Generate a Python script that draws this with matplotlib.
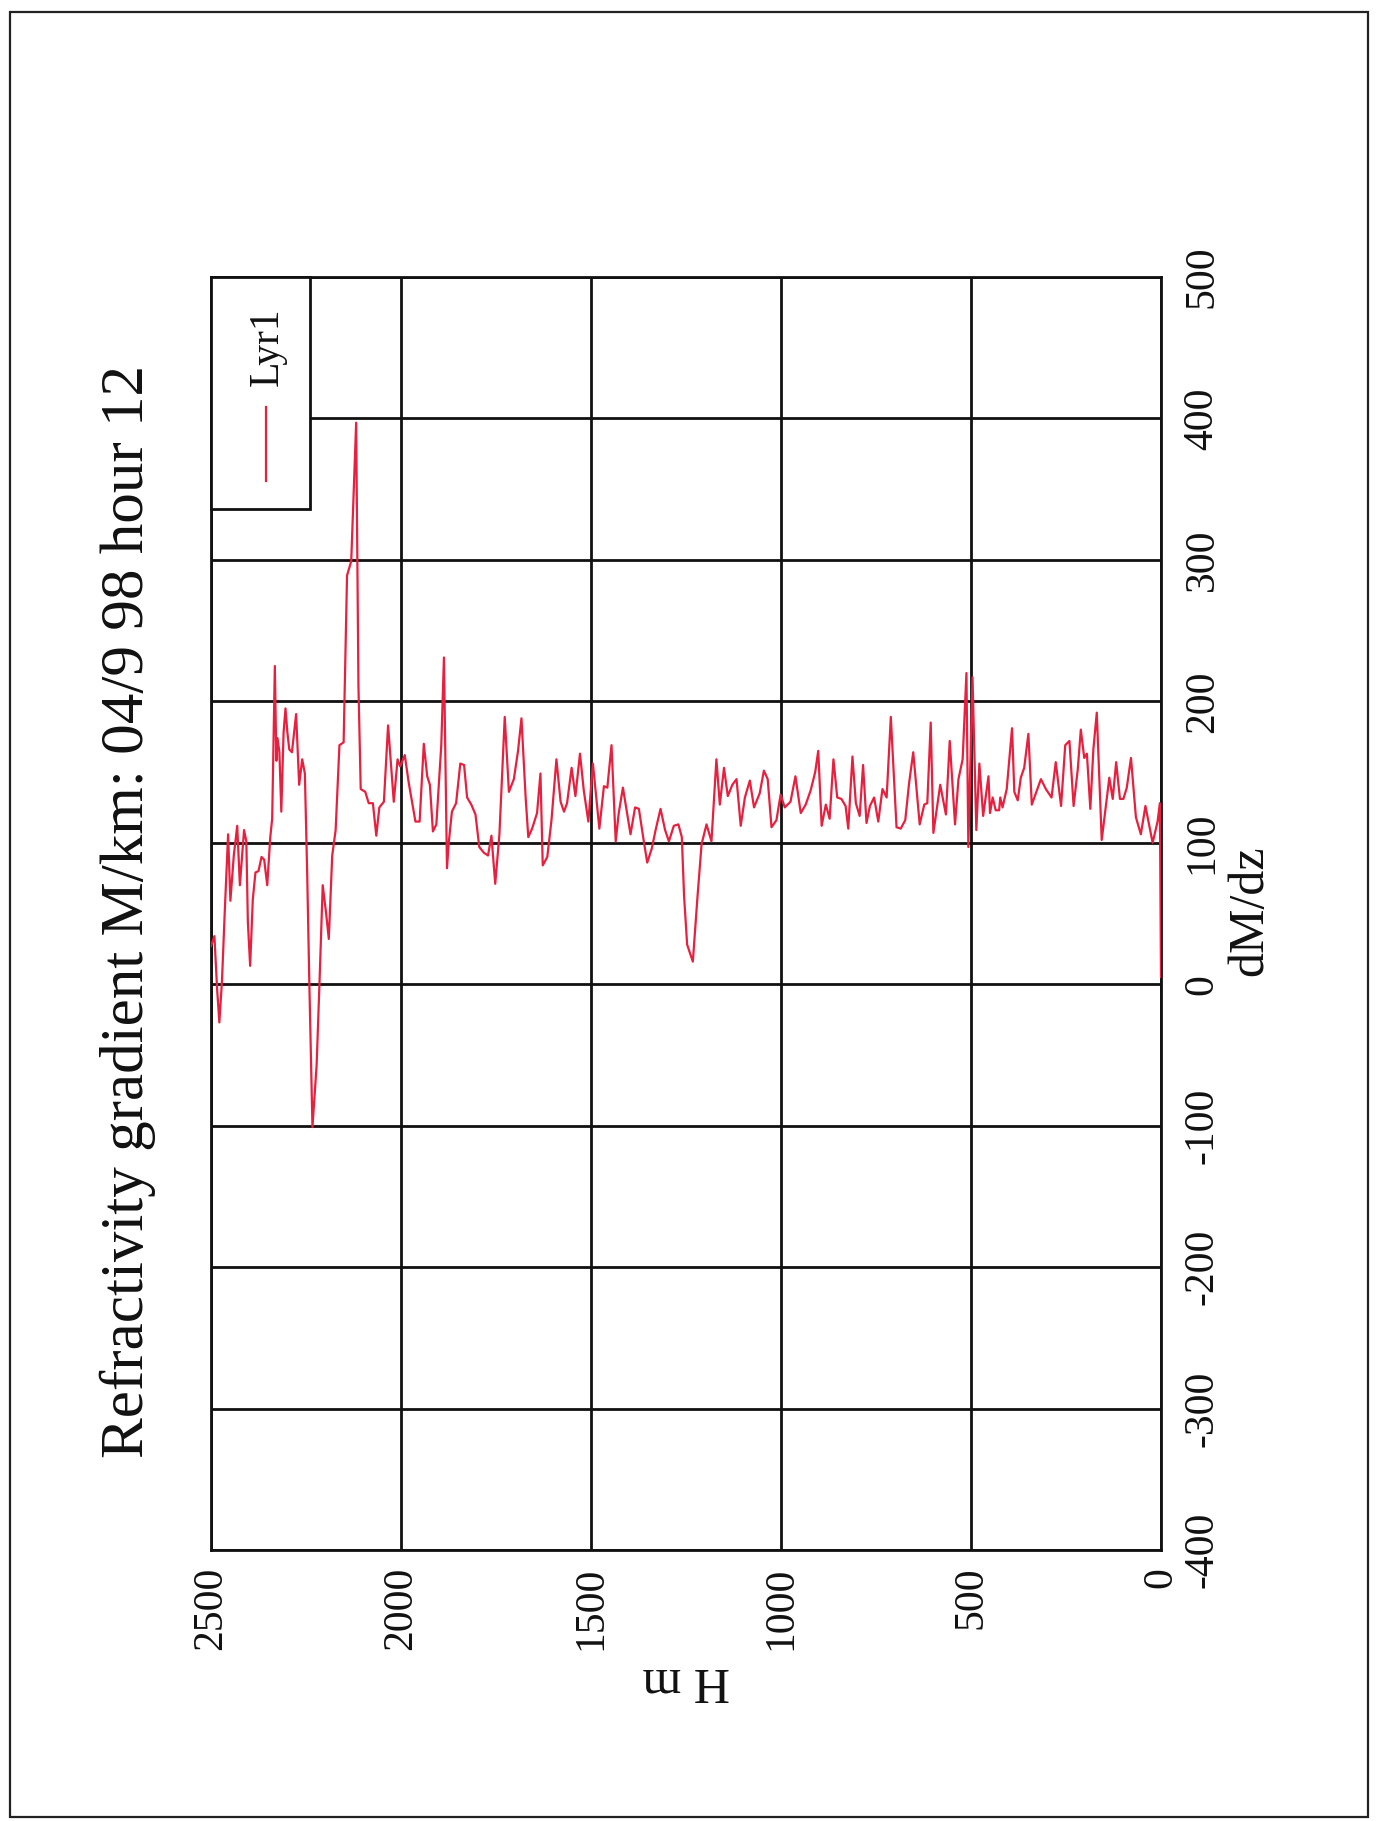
import matplotlib
matplotlib.use("Agg")
import matplotlib.pyplot as plt
from matplotlib.patches import Rectangle
from matplotlib.lines import Line2D

plt.rcParams['font.family'] = ['Liberation Serif', 'DejaVu Serif']
plt.rcParams['axes.unicode_minus'] = False

# Height above ground (m) and refractivity gradient dM/dz (M/km)
height_m = [
    2500, 2491, 2484, 2478, 2471, 2464, 2455, 2449, 2440, 2431,
    2424, 2418, 2413, 2407, 2403, 2397, 2390, 2383, 2375, 2367,
    2360, 2352, 2344, 2339, 2332, 2328, 2325, 2320, 2315, 2309,
    2304, 2299, 2294, 2287, 2280, 2276, 2268, 2260, 2253, 2247,
    2241, 2233, 2222, 2215, 2206, 2197, 2190, 2181, 2172, 2162,
    2151, 2142, 2131, 2118, 2112, 2106,
    2094, 2085, 2074, 2065, 2057, 2045, 2034, 2019, 2009, 2002,
    1990, 1980, 1962, 1951, 1940, 1931, 1924, 1916, 1907, 1894,
    1887, 1879, 1874, 1866, 1855, 1844, 1834, 1826, 1815,
    1804, 1794, 1782, 1771, 1762, 1752, 1741, 1727, 1716, 1703,
    1692, 1683, 1672,
    1665, 1655, 1642, 1633, 1627, 1615, 1604, 1591, 1580, 1571,
    1563, 1551, 1541, 1529, 1519, 1507, 1495, 1488, 1478, 1466,
    1457, 1446, 1435, 1427, 1416, 1405, 1396, 1384, 1374, 1361,
    1352, 1340, 1330, 1317, 1305, 1295, 1282, 1270, 1261, 1255,
    1247, 1232,
    1220, 1209, 1196, 1183, 1170, 1161, 1150, 1140, 1128, 1117,
    1106, 1095, 1082, 1071, 1056, 1045, 1035, 1025, 1012, 1001,
    990, 975, 962, 948, 935, 922, 910, 902, 893, 882,
    872, 862, 852, 841, 830, 823,
    812, 803, 793, 784, 775, 766, 755, 744, 733, 722,
    711, 696, 685, 673, 663, 652, 635, 623, 615, 606,
    599, 581, 566, 556, 542, 533, 522, 512, 507, 496,
    486, 478, 468, 454, 450, 443, 435, 426, 423, 417,
    406,
    392, 386, 377, 369, 360, 349, 340, 328, 316, 303,
    288, 277, 263, 252, 241, 230, 219, 211, 202, 195,
    186, 178, 169, 156, 145, 136, 127, 118, 108, 99,
    90, 79, 66, 53, 41, 22, 9, 3, 0,
]

dm_dz = [
    27, 34, -3, -27, 3, 50, 106, 59, 91, 112,
    70, 91, 109, 101, 44, 13, 60, 79, 80, 90,
    88, 70, 104, 117, 225, 158, 174, 164, 122, 178,
    195, 178, 166, 164, 181, 191, 141, 159, 149, 80,
    -2, -101, -57, -3, 70, 50, 32, 91, 109, 169,
    171, 289, 299, 397, 211, 138,
    136, 128, 128, 105, 125, 129, 183, 129, 159, 154,
    162, 143, 115, 115, 170, 147, 141, 108, 113, 169,
    231, 82, 101, 122, 128, 156, 155, 132, 127,
    120, 97, 93, 91, 105, 71, 106, 189, 136, 145,
    165, 188, 132,
    104, 110, 121, 149, 84, 90, 116, 159, 129, 122,
    128, 153, 133, 163, 137, 115, 156, 137, 110, 140,
    139, 169, 101, 121, 139, 121, 106, 125, 124, 101,
    86, 96, 109, 124, 109, 101, 112, 113, 104, 62,
    28, 16,
    61, 99, 113, 101, 159, 127, 153, 133, 141, 145,
    112, 132, 144, 125, 135, 151, 145, 111, 116, 134,
    125, 129, 147, 121, 127, 137, 150, 165, 112, 127,
    117, 159, 132, 131, 126, 110,
    161, 128, 119, 155, 114, 126, 132, 115, 138, 132,
    189, 111, 110, 116, 142, 164, 113, 127, 128, 185,
    107, 141, 120, 172, 113, 145, 159, 220, 97, 217,
    109, 156, 119, 147, 121, 132, 123, 123, 132, 125,
    138,
    181, 136, 130, 146, 153, 177, 127, 136, 145, 138,
    132, 157, 126, 169, 172, 126, 152, 180, 160, 163,
    124, 166, 192, 102, 126, 146, 131, 157, 131, 131,
    139, 160, 118, 106, 126, 100, 115, 128, 5,
]

height_ticks = [0, 500, 1000, 1500, 2000, 2500]
gradient_ticks = [-400, -300, -200, -100, 0, 100, 200, 300, 400, 500]
series_name = "Lyr1"
title_text = "Refractivity gradient M/km: 04/9 98 hour 12"

W, H = 1376, 1821
fig = plt.figure(figsize=(W / 100, H / 100), dpi=100)
fig.patch.set_facecolor("white")

# page frame
frame = Rectangle((10 / W, 1 - 1817 / H), (1368 - 10) / W, (1817 - 12) / H,
                  transform=fig.transFigure, fill=False, edgecolor="#222222",
                  linewidth=1.6)
fig.add_artist(frame)

# plot area: height runs right-to-left, gradient runs bottom-to-top
left, right, top, bottom = 211, 1161, 277, 1550
ax = fig.add_axes([left / W, 1 - bottom / H, (right - left) / W, (bottom - top) / H])
ax.plot(height_m, dm_dz, color="#e8203f", linewidth=1.6, zorder=3)
ax.set_xlim(2500, 0)
ax.set_ylim(-400, 500)
ax.set_xticks(height_ticks)
ax.set_yticks(gradient_ticks)
ax.set_yticklabels([str(v) for v in gradient_ticks])
ax.yaxis.tick_right()
ax.tick_params(axis="both", length=0, labelsize=30, colors="#111111")
ax.tick_params(axis="x", pad=12)
ax.tick_params(axis="y", pad=16)
for lab in ax.get_xticklabels():
    lab.set_rotation(90)
    lab.set_ha("center")
    lab.set_va("top")
for lab in ax.get_yticklabels():
    lab.set_rotation(90)
    lab.set_ha("left")
    lab.set_va("center")
ax.grid(True, color="#111111", linewidth=2.0, zorder=1)
ax.set_axisbelow(True)
for sp in ax.spines.values():
    sp.set_color("#111111")
    sp.set_linewidth(2.0)

# legend box in the upper-left corner
ax.add_patch(Rectangle((0, 0.818), 0.104, 0.182, transform=ax.transAxes,
                       facecolor="white", edgecolor="#111111", linewidth=2.0,
                       zorder=4, clip_on=False))
ax.add_line(Line2D([0.058, 0.058], [0.840, 0.898], transform=ax.transAxes,
                   color="#e8203f", linewidth=1.6, zorder=5))
ax.text(0.060, 0.945, series_name, transform=ax.transAxes, rotation=90,
        ha="center", va="center", fontsize=30, color="#111111", zorder=5)

# title and axis labels
fig.text(128 / W, 1 - 911 / H, title_text, rotation=90, ha="center",
         va="center", fontsize=44, color="#111111")
fig.text(1250 / W, 1 - 911 / H, "dM/dz", rotation=90, ha="center",
         va="center", fontsize=36, color="#111111")
fig.text(686 / W, 1 - 1680 / H, "H m", rotation=180, ha="center",
         va="center", fontsize=36, color="#111111")

fig.savefig("out.png", dpi=100, facecolor="white")
